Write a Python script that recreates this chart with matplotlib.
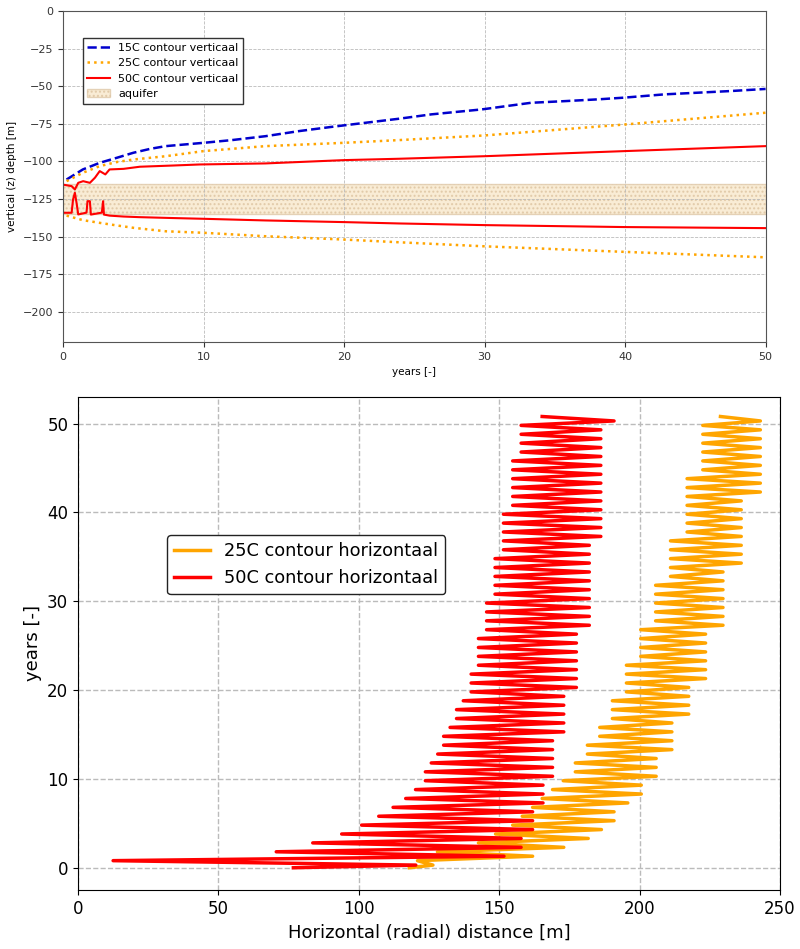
import numpy as np
import matplotlib
matplotlib.use("Agg")
import matplotlib.pyplot as plt

# ---- top panel: vertical contours vs time ----
t15 = [0.24, 1.4, 2.6, 3.8, 5.0, 6.2, 7.3, 10, 12, 14.4, 16.8, 19.2, 21.5, 23.9,
       26.2, 29.8, 33.3, 35.7, 38.1, 39.9, 42.8, 47.5, 50]
z15 = [-112.0, -105.3, -100.9, -97.6, -94.2, -91.6, -89.8, -87.6, -85.8, -83.2, -79.8,
       -76.9, -74.3, -71.6, -68.7, -65.4, -61.0, -59.9, -58.7, -57.6, -55.4, -53.2, -51.8]

t25 = [0.24, 1.4, 2.6, 3.8, 5.0, 7.3, 10, 14.4, 20, 23.9, 30, 40, 50]
z25_top = [-113.1, -107.5, -103.1, -100.4, -98.7, -96.5, -93.1, -89.8, -87.6, -85.8,
           -82.7, -75.4, -67.6]
z25_bot = [-136.0, -139.0, -140.8, -142.5, -144.1, -146.4, -147.4, -149.7, -151.9,
           -153.7, -156.4, -160.1, -163.7]

t50_top = [0, 0.6, 0.83, 1.07, 1.42, 1.9, 2.26, 2.6, 3.0, 3.3, 4.3, 5.45, 7.8, 9.7,
           14.4, 20, 23.9, 30, 40, 50]
z50_top = [-115.4, -116.4, -118.6, -114.2, -113.1, -114.2, -110.8, -106.4, -108.6,
           -105.3, -104.9, -103.5, -102.7, -102.0, -101.3, -99.1, -98.2, -96.5, -93.1,
           -89.8]
t50_bot = [0, 0.6, 0.7, 0.83, 0.95, 1.07, 1.66, 1.73, 1.9, 1.97, 2.75, 2.84, 2.9,
           3.3, 4.3, 5.4, 7.8, 10, 14.4, 20, 23.9, 30, 40, 50]
z50_bot = [-134.1, -134.1, -125.3, -120.8, -127.5, -135.2, -134.0, -126.4, -126.4,
           -135.3, -134.0, -126.4, -135.3, -136.0, -136.6, -137.0, -137.6, -138.1,
           -139.2, -140.3, -141.2, -142.3, -143.6, -144.3]

aquifer_top = -115
aquifer_bot = -135

# ---- bottom panel: horizontal contours, per year min / max radius ----
years = list(range(51))
red_start = 76.7
red_max = [120.3, 151.7, 157.8, 157.8, 161.9, 161.9, 161.9, 165.6, 165.6, 165.6,
           169.0, 169.0, 169.0, 169.0, 169.0, 173.0, 173.0, 173.0, 173.0, 173.0,
           177.5, 177.5, 177.5, 177.5, 177.5, 177.5, 177.5,
           182.1, 182.1, 182.1, 182.1, 182.1, 182.1, 182.1, 182.1, 182.1, 182.1,
           186.2, 186.2, 186.2, 186.2, 186.2, 186.2, 186.2, 186.2, 186.2, 186.2,
           186.2, 186.2, 186.2, 190.9]
red_min = [12.5, 70.6, 83.6, 93.9, 101.0, 107.1, 112.2, 116.7, 120.2, 123.7,
           123.7, 125.8, 128.1, 130.2, 130.2, 132.5, 134.8, 134.8, 137.2, 140.0,
           140.0, 140.0, 142.6, 142.6, 142.6, 142.6, 145.5, 145.5, 145.5, 145.5,
           148.5, 148.5, 148.5, 148.5, 148.5, 151.5, 151.5, 151.5, 151.5, 151.5,
           154.8, 154.8, 154.8, 154.8, 154.8, 154.8, 157.8, 157.8, 157.8, 157.8,
           165.3]

orange_start = 118.0
orange_max = [126.4, 161.9, 173.0, 181.7, 186.4, 190.9, 190.9, 195.8, 200.6, 200.6,
              205.9, 205.9, 205.9, 211.5, 211.5, 211.5, 211.5,
              217.5, 217.5, 217.5, 217.5, 223.5, 223.5, 223.5, 223.5, 223.5, 223.5,
              229.7, 229.7, 229.7, 229.7, 229.7, 229.7, 229.7,
              236.2, 236.2, 236.2, 236.2, 236.2, 236.2, 236.2, 236.2,
              243.0, 243.0, 243.0, 243.0, 243.0, 243.0, 243.0, 243.0, 243.0]
orange_min = [120.9, 128.0, 142.6, 148.7, 154.8, 158.2, 161.9, 165.3, 169.0, 172.8,
              177.1, 177.1, 181.4, 181.4, 185.8, 185.8, 190.3, 190.3, 190.3,
              195.3, 195.3, 195.3, 195.3, 200.4, 200.4, 200.4, 200.4,
              205.7, 205.7, 205.7, 205.7, 205.7, 211.0, 211.0, 211.0, 211.0, 211.0,
              216.9, 216.9, 216.9, 216.9, 216.9, 216.9, 216.9,
              222.5, 222.5, 222.5, 222.5, 222.5, 222.5, 228.8]


def zigzag(start, maxs, mins):
    # outer radius a bit after the turn of the year, inner radius half a year later
    t = [0.0]
    r = [start]
    for k in years:
        t += [k + 0.3, k + 0.8]
        r += [maxs[k], mins[k]]
    return np.array(r), np.array(t)


fig = plt.figure(figsize=(8, 9.49), dpi=100)

# top
ax1 = fig.add_axes([0.079, 0.6396, 0.878, 0.3488])
ax1.axhspan(aquifer_bot, aquifer_top, facecolor="wheat", alpha=0.55,
            edgecolor="tan", hatch="....", linewidth=1.0, label="aquifer")
ax1.plot(t15, z15, "--", color="mediumblue", lw=1.8, label="15C contour verticaal")
ax1.plot(t25, z25_top, ":", color="orange", lw=1.8, label="25C contour verticaal")
ax1.plot(t25, z25_bot, ":", color="orange", lw=1.8)
ax1.plot(t50_top, z50_top, "-", color="red", lw=1.5, label="50C contour verticaal")
ax1.plot(t50_bot, z50_bot, "-", color="red", lw=1.5)
ax1.set_xlim(0, 50)
ax1.set_ylim(-220, 0)
ax1.set_xticks(range(0, 51, 10))
ax1.set_yticks(range(-200, 1, 25))
ax1.tick_params(labelsize=8, colors="#333333")
ax1.grid(True, ls="--", lw=0.6, color="#bbbbbb")
ax1.set_xlabel("years [-]", fontsize=7.5)
ax1.set_ylabel("vertical (z) depth [m]", fontsize=7.5)
for s in ax1.spines.values():
    s.set_color("#555555")
h, l = ax1.get_legend_handles_labels()
order = [1, 2, 3, 0]
ax1.legend([h[i] for i in order], [l[i] for i in order], loc="upper left",
           bbox_to_anchor=(0.028, 0.918), borderaxespad=0, fontsize=8,
           fancybox=False, edgecolor="#333333", framealpha=1)

# bottom
ax2 = fig.add_axes([0.0975, 0.0622, 0.8775, 0.5195])
ro, to = zigzag(orange_start, orange_max, orange_min)
rr, tr = zigzag(red_start, red_max, red_min)
ax2.plot(ro, to, color="orange", lw=2.5, label="25C contour horizontaal")
ax2.plot(rr, tr, color="red", lw=2.5, label="50C contour horizontaal")
ax2.set_xlim(0, 250)
ax2.set_ylim(-2.5, 53)
ax2.set_xticks(range(0, 251, 50))
ax2.set_yticks(range(0, 51, 10))
ax2.tick_params(labelsize=12)
ax2.grid(True, ls="--", lw=1.0, color="#bbbbbb")
ax2.set_xlabel("Horizontal (radial) distance [m]", fontsize=13)
ax2.set_ylabel("years [-]", fontsize=13)
ax2.legend(loc="upper left", bbox_to_anchor=(0.127, 0.72), borderaxespad=0,
           fontsize=12.8, edgecolor="#222222", framealpha=1)

fig.savefig("out.png", dpi=100)
